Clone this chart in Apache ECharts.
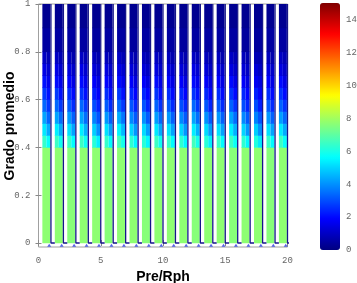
<!DOCTYPE html>
<html>
<head>
<meta charset="utf-8">
<script src="https://cdn.jsdelivr.net/npm/echarts@6/dist/echarts.min.js"></script>
<style>html,body{margin:0;padding:0;background:#fff}#c{width:357px;height:283px}</style>
</head>
<body>
<div id="c"></div>
<script>
// ---- data ----
const stripeX = [1,2,3,4,5,6,7,8,9,10,11,12,13,14,15,16,17,18,19,20];
const markerX = [0.86,1.86,2.86,3.86,4.86,5.86,6.86,7.86,8.86,9.86,10.86,11.86,12.86,13.86,14.86,15.86,16.86,17.86,18.86,19.86];
const markerY = [-0.009,-0.009,-0.009,-0.009,-0.009,-0.009,-0.009,-0.009,-0.009,-0.009,-0.009,-0.009,-0.009,-0.009,-0.009,-0.009,-0.009,-0.009,-0.009,-0.009];
// y bin edges of the transition rows
const transEdges = [0.40,0.45,0.50,0.55,0.60,0.65,0.70,0.75,0.80];
// lower (green) block 0 - 0.40
const greenVals = [7.7,7.7,7.6,7.7,7.7,7.6,7.7,7.7,7.6,7.7,7.7,7.7,7.6,7.7,7.7,7.6,7.7,7.7,7.6,7.7];
// upper navy blocks 0.80-0.90 and 0.90-1.00
const top80Vals = [0.5,0.5,0.5,0.5,0.45,0.5,0.5,0.45,0.5,0.5,0.5,0.45,0.5,0.5,0.5,0.5,0.45,0.45,0.5,0.5];
const top90Vals = [0.25,0.25,0.25,0.25,0.25,0.25,0.25,0.25,0.25,0.25,0.25,0.25,0.25,0.25,0.25,0.25,0.25,0.25,0.25,0.25];
// left half of each stripe, rows 0.40..0.80
const leftRows = [
  [6.4,6.5,6.4,6.5,6.2,6.4,6.6,6.3,6.2,6.5,6.4,6.3,6.6,6.2,6.4,6.5,6.3,6.1,6.4,6.5],
  [5.3,5.4,5.2,5.4,4.9,5.2,5.5,5.0,5.1,5.3,5.2,5.0,5.4,5.1,5.2,5.4,5.0,4.9,5.2,5.3],
  [4.3,4.3,4.1,4.3,3.8,4.1,4.4,3.9,4.0,4.2,4.1,3.9,4.3,4.0,4.1,4.3,3.9,3.8,4.1,4.2],
  [3.4,3.4,3.2,3.4,3.0,3.2,3.4,3.1,3.1,3.3,3.2,3.0,3.4,3.1,3.2,3.3,3.0,3.0,3.2,3.3],
  [2.7,2.7,2.5,2.6,2.3,2.5,2.7,2.4,2.4,2.6,2.5,2.4,2.6,2.4,2.5,2.6,2.4,2.3,2.5,2.6],
  [2.1,2.0,1.9,2.0,1.8,1.9,2.0,1.8,1.8,2.0,1.9,1.8,2.0,1.8,1.9,2.0,1.8,1.7,1.9,2.0],
  [1.5,1.5,1.4,1.5,1.3,1.4,1.5,1.3,1.3,1.4,1.4,1.3,1.5,1.3,1.4,1.4,1.3,1.3,1.4,1.4],
  [1.0,1.0,0.9,1.0,0.9,0.9,1.0,0.9,0.9,1.0,0.9,0.9,1.0,0.9,0.9,1.0,0.9,0.8,0.9,1.0]
];
// right half of each stripe, rows 0.40..0.80
const rightRows = [
  [5.7,5.8,5.6,5.8,5.4,5.6,5.9,5.5,5.5,5.8,5.6,5.5,5.9,5.4,5.6,5.8,5.5,5.3,5.6,5.7],
  [4.4,4.5,4.3,4.5,4.0,4.3,4.6,4.1,4.2,4.4,4.3,4.1,4.5,4.2,4.3,4.5,4.1,4.0,4.3,4.4],
  [3.4,3.5,3.3,3.5,3.1,3.3,3.6,3.2,3.2,3.4,3.3,3.2,3.5,3.2,3.3,3.5,3.2,3.1,3.3,3.4],
  [2.7,2.7,2.5,2.7,2.4,2.5,2.7,2.4,2.4,2.6,2.5,2.4,2.7,2.4,2.5,2.6,2.4,2.3,2.5,2.6],
  [2.1,2.1,2.0,2.1,1.8,2.0,2.1,1.9,1.9,2.0,2.0,1.9,2.1,1.9,2.0,2.0,1.9,1.8,2.0,2.0],
  [1.6,1.6,1.5,1.6,1.4,1.5,1.6,1.4,1.4,1.5,1.5,1.4,1.6,1.4,1.5,1.5,1.4,1.4,1.5,1.5],
  [1.2,1.2,1.1,1.2,1.0,1.1,1.2,1.0,1.0,1.1,1.1,1.0,1.2,1.0,1.1,1.1,1.0,1.0,1.1,1.1],
  [0.8,0.8,0.7,0.8,0.7,0.7,0.8,0.7,0.7,0.8,0.7,0.7,0.8,0.7,0.7,0.8,0.7,0.7,0.7,0.8]
];
const xTicks = [0,5,10,15,20];
const yTicks = [0,0.2,0.4,0.6,0.8,1];
const cbarMin = 0, cbarMax = 15, cbarStep = 2;
const xTitle = 'Pre/Rph';
const yTitle = 'Grado promedio';

// ---- presentation constants (stripe geometry relative to its x value) ----
const S_LEFT = 0.69, S_MID = 0.37, S_RIGHT = 0.05, GAP_END = 0.31;

// build cells: [x0, x1, y0, y1, value]
const cells = [];
stripeX.forEach((x, i) => {
  const xl = x - S_LEFT, xm = x - S_MID, xr = x - S_RIGHT;
  cells.push([xl, xr, 0, transEdges[0], greenVals[i]]);
  for (let r = 0; r < leftRows.length; r++) {
    cells.push([xl, xm, transEdges[r], transEdges[r + 1], leftRows[r][i]]);
    cells.push([xm, xr, transEdges[r], transEdges[r + 1], rightRows[r][i]]);
  }
  cells.push([xl, xr, 0.80, 0.90, top80Vals[i]]);
  cells.push([xl, xr, 0.90, 1.00, top90Vals[i]]);
});
const edgeLine = [];
stripeX.forEach(x => {
  edgeLine.push([x, 1]); edgeLine.push([x, 0]); edgeLine.push([x + GAP_END, 0]); edgeLine.push('-');
});
const markers = markerX.map((x, i) => [x, markerY[i]]);

const jet = ['#000080','#0000ff','#0080ff','#00ffff','#80ff80','#ffff00','#ff8000','#ff0000','#800000'];
const tickFont = { fontFamily: 'Liberation Mono', fontSize: 9, color: '#666' };
const titleFont = 'bold 14px "Liberation Sans"';
const yMin = -0.0167, yMax = 1;

const chart = echarts.init(document.getElementById('c'), null, { renderer: 'canvas' });
chart.setOption({
  animation: false,
  backgroundColor: '#fff',
  grid: [
    { left: 38.5, top: 4, width: 249, height: 243, show: true, borderColor: '#a0a0a0', borderWidth: 1,
      backgroundColor: 'transparent', containLabel: false, outerBoundsMode: 'none' },
    { left: 320, top: 3, width: 20, height: 247, show: false, containLabel: false, outerBoundsMode: 'none' }
  ],
  graphic: [
    { type: 'text', x: 10, y: 126, rotation: Math.PI / 2, z: 10,
      style: { text: yTitle, font: titleFont, fill: '#000', align: 'center', verticalAlign: 'middle' } }
  ],
  xAxis: [
    { type: 'value', gridIndex: 0, min: 0, max: 20, interval: 5,
      axisLine: { show: false }, splitLine: { show: false },
      axisTick: { inside: true, length: 3, lineStyle: { color: '#888' } },
      axisLabel: Object.assign({ margin: 9 }, tickFont),
      name: xTitle, nameLocation: 'middle', nameGap: 23,
      nameTextStyle: { fontFamily: 'Liberation Sans', fontWeight: 'bold', fontSize: 14, color: '#000' } },
    { type: 'value', gridIndex: 0, position: 'top', min: 0, max: 20, interval: 5,
      axisLine: { show: false }, splitLine: { show: false }, axisLabel: { show: false },
      axisTick: { inside: true, length: 3, lineStyle: { color: '#888' } } },
    { type: 'value', gridIndex: 1, show: false, min: 0, max: 1 }
  ],
  yAxis: [
    { type: 'value', gridIndex: 0, min: yMin, max: yMax,
      axisLine: { show: false }, splitLine: { show: false },
      axisTick: { inside: true, length: 3, customValues: yTicks, lineStyle: { color: '#888' } },
      axisLabel: Object.assign({ margin: 8, customValues: yTicks, formatter: v => String(v) }, tickFont) },
    { type: 'value', gridIndex: 0, position: 'right', min: yMin, max: yMax,
      axisLine: { show: false }, splitLine: { show: false }, axisLabel: { show: false },
      axisTick: { inside: true, length: 3, customValues: yTicks, lineStyle: { color: '#888' } } },
    { type: 'value', gridIndex: 1, position: 'right', min: cbarMin, max: cbarMax, interval: cbarStep,
      axisLine: { show: false }, splitLine: { show: false }, axisTick: { show: false },
      axisLabel: Object.assign({ margin: 6, showMaxLabel: false }, tickFont) }
  ],
  visualMap: {
    type: 'continuous', min: cbarMin, max: cbarMax, dimension: 4, seriesIndex: 0,
    left: 320, top: 3, itemWidth: 20, itemHeight: 247, padding: 0,
    calculable: false, hoverLink: false, text: null, showLabel: false,
    inRange: { color: jet }
  },
  series: [
    {
      type: 'custom', xAxisIndex: 0, yAxisIndex: 0, data: cells,
      encode: { x: [0, 1], y: [2, 3] }, clip: true,
      renderItem: function (params, api) {
        const p0 = api.coord([api.value(0), api.value(3)]);
        const p1 = api.coord([api.value(1), api.value(2)]);
        return { type: 'rect',
          shape: { x: p0[0], y: p0[1] - 0.3, width: p1[0] - p0[0], height: p1[1] - p0[1] + 0.6 },
          style: { fill: api.visual('color') } };
      }
    },
    {
      type: 'line', xAxisIndex: 0, yAxisIndex: 0, data: edgeLine, symbol: 'none', connectNulls: false,
      lineStyle: { color: '#15158a', width: 1.3 }, z: 3
    },
    {
      type: 'scatter', xAxisIndex: 0, yAxisIndex: 0, data: markers, symbol: 'triangle', symbolSize: [4, 3],
      itemStyle: { color: '#2a3ce0' }, z: 4
    }
  ]
});
</script>
</body>
</html>
